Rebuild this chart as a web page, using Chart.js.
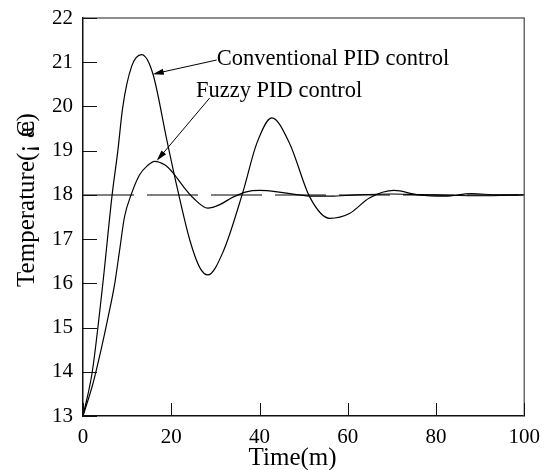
<!DOCTYPE html>
<html>
<head>
<meta charset="utf-8">
<script src="https://cdn.jsdelivr.net/npm/chart.js@4.4.1/dist/chart.umd.min.js"></script>
<style>
  html, body { margin: 0; padding: 0; background: #fff; }
  #grafico { display: block; }
</style>
</head>
<body>
<div style="width:549px;height:470px;position:relative">
  <canvas id="grafico" width="549" height="470"></canvas>
</div>
<script>
// datos (tiempo en minutos, temperatura en grados)
const tiempoConvencional = [0, 2.1, 4.5, 6.6, 7.9, 9, 11, 13.3, 15.8, 19, 21.3, 24.2, 26.5, 28.3, 31.7, 36.2, 39.4, 42.8, 46.8, 51.4, 55.9, 60.4, 64.9, 70.5, 76, 82, 88, 94, 100];
const tempConvencional = [13, 14, 16, 18, 19, 19.98, 20.9, 21.17, 20.75, 19.24, 18.18, 16.98, 16.35, 16.19, 16.7, 18.05, 19.17, 19.74, 19.17, 17.95, 17.47, 17.58, 17.93, 18.1, 18.0, 17.97, 18.03, 18.0, 18.0];

const tiempoFuzzy = [0, 2.3, 4.1, 5.7, 7.2, 8.3, 9.4, 10.9, 12.8, 14.7, 16.2, 18.5, 20.4, 22.5, 25, 28.3, 31, 34, 37, 40, 44, 48, 52, 56, 62, 70, 80, 90, 100];
const tempFuzzy = [13, 13.75, 14.5, 15.24, 16.0, 16.75, 17.5, 18.0, 18.45, 18.67, 18.76, 18.68, 18.5, 18.22, 17.93, 17.7, 17.78, 17.95, 18.07, 18.1, 18.07, 18.01, 17.97, 17.97, 18.0, 18.02, 18.0, 17.98, 18.0];

const tiempoReferencia = [0, 100];
const tempReferencia = [18, 18];

const ticksX = [0, 20, 40, 60, 80, 100];
const ticksY = [13, 14, 15, 16, 17, 18, 19, 20, 21, 22];

const nombreConvencional = 'Conventional PID control';
const nombreFuzzy = 'Fuzzy PID control';
const tituloX = 'Time(m)';
const tituloY = 'Temperature(¡ ';

const fuente = '"Liberation Serif", "Times New Roman", serif';

function armarPuntos(xs, ys) {
    return xs.map((x, i) => ({ x: x, y: ys[i] }));
}

// etiquetas con flecha, en unidades del grafico
const anotaciones = [
    { texto: nombreConvencional, tx: 30.3, ty: 20.94, cola: [30.3, 21.05], punta: [15.8, 20.73] },
    { texto: nombreFuzzy, tx: 25.6, ty: 20.21, cola: [28.7, 20.19], punta: [16.7, 18.77] }
];

const marcoPlugin = {
    id: 'marco',
    afterDraw(chart) {
        const ctx = chart.ctx;
        const a = chart.chartArea;
        const xs = chart.scales.x, ys = chart.scales.y;
        ctx.save();
        // borde superior y derecho
        ctx.strokeStyle = '#6a6a6a';
        ctx.lineWidth = 1.5;
        ctx.beginPath();
        ctx.moveTo(a.left, a.top);
        ctx.lineTo(a.right, a.top);
        ctx.lineTo(a.right, a.bottom);
        ctx.stroke();

        // marcas hacia adentro
        ctx.strokeStyle = '#111';
        ctx.lineWidth = 1;
        ctx.beginPath();
        ticksY.forEach(v => {
            const y = Math.round(ys.getPixelForValue(v)) + 0.5;
            ctx.moveTo(a.left, y);
            ctx.lineTo(a.left + 14, y);
        });
        ticksX.forEach(v => {
            const x = Math.round(xs.getPixelForValue(v)) + 0.5;
            ctx.moveTo(x, a.bottom);
            ctx.lineTo(x, a.bottom - 13);
        });
        ctx.stroke();

        // anotaciones con flechas
        ctx.fillStyle = '#000';
        ctx.strokeStyle = '#000';
        ctx.font = '22.5px ' + fuente;
        ctx.textBaseline = 'alphabetic';
        ctx.textAlign = 'left';
        anotaciones.forEach(an => {
            ctx.fillText(an.texto, xs.getPixelForValue(an.tx), ys.getPixelForValue(an.ty));
            const x0 = xs.getPixelForValue(an.cola[0]), y0 = ys.getPixelForValue(an.cola[1]);
            const x1 = xs.getPixelForValue(an.punta[0]), y1 = ys.getPixelForValue(an.punta[1]);
            const ang = Math.atan2(y1 - y0, x1 - x0);
            ctx.lineWidth = 1;
            ctx.beginPath();
            ctx.moveTo(x0, y0);
            ctx.lineTo(x1 - 8 * Math.cos(ang), y1 - 8 * Math.sin(ang));
            ctx.stroke();
            ctx.beginPath();
            ctx.moveTo(x1, y1);
            ctx.lineTo(x1 - 11 * Math.cos(ang) + 3 * Math.sin(ang), y1 - 11 * Math.sin(ang) - 3 * Math.cos(ang));
            ctx.lineTo(x1 - 11 * Math.cos(ang) - 3 * Math.sin(ang), y1 - 11 * Math.sin(ang) + 3 * Math.cos(ang));
            ctx.closePath();
            ctx.fill();
        });

        // titulo eje x
        ctx.font = '25px ' + fuente;
        ctx.textAlign = 'center';
        ctx.fillText(tituloX, xs.getPixelForValue(47.5), a.bottom + 49);

        // titulo eje y (el simbolo de grados sale mal codificado)
        ctx.translate(34, a.top + 182);
        ctx.rotate(-Math.PI / 2);
        ctx.textAlign = 'left';
        const w1 = ctx.measureText(tituloY).width;
        const wae = ctx.measureText('æ').width;
        const inicio = -(w1 + wae + ctx.measureText(')').width) / 2;
        ctx.fillText(tituloY, inicio, 0);
        ctx.fillText('æ', inicio + w1, 0);
        ctx.fillText('C', inicio + w1 + 1, 0);
        ctx.fillText(')', inicio + w1 + wae, 0);
        ctx.restore();
    }
};

const config = {
    type: 'line',
    data: {
        datasets: [
            {
                label: nombreConvencional,
                data: armarPuntos(tiempoConvencional, tempConvencional),
                borderColor: '#000',
                borderWidth: 1.2,
                pointRadius: 0,
                cubicInterpolationMode: 'monotone',
                fill: false
            },
            {
                label: nombreFuzzy,
                data: armarPuntos(tiempoFuzzy, tempFuzzy),
                borderColor: '#000',
                borderWidth: 1.2,
                pointRadius: 0,
                cubicInterpolationMode: 'monotone',
                fill: false
            },
            {
                label: 'ref',
                data: armarPuntos(tiempoReferencia, tempReferencia),
                borderColor: '#555',
                borderWidth: 1.5,
                borderDash: [51, 13],
                pointRadius: 0,
                fill: false
            }
        ]
    },
    options: {
        responsive: false,
        animation: false,
        layout: { padding: { left: 0, right: 23.3, top: 18, bottom: 0 } },
        plugins: {
            legend: { display: false },
            tooltip: { enabled: false }
        },
        scales: {
            x: {
                type: 'linear',
                min: 0,
                max: 100,
                afterBuildTicks: s => { s.ticks = ticksX.map(v => ({ value: v })); },
                afterFit: s => { s.height = 54; },
                grid: { display: false, drawTicks: false },
                border: { display: true, color: '#111', width: 1.5 },
                ticks: { color: '#000', font: { family: fuente, size: 21 }, padding: 9, maxRotation: 0 }
            },
            y: {
                type: 'linear',
                min: 13,
                max: 22,
                afterBuildTicks: s => { s.ticks = ticksY.map(v => ({ value: v })); },
                afterFit: s => { s.width = 83; s.paddingTop = 0; s.paddingBottom = 0; },
                grid: { display: false, drawTicks: false },
                border: { display: true, color: '#111', width: 1.5 },
                ticks: { color: '#000', font: { family: fuente, size: 21 }, padding: 10 }
            }
        }
    },
    plugins: [marcoPlugin]
};

new Chart(document.getElementById('grafico'), config);
</script>
</body>
</html>
